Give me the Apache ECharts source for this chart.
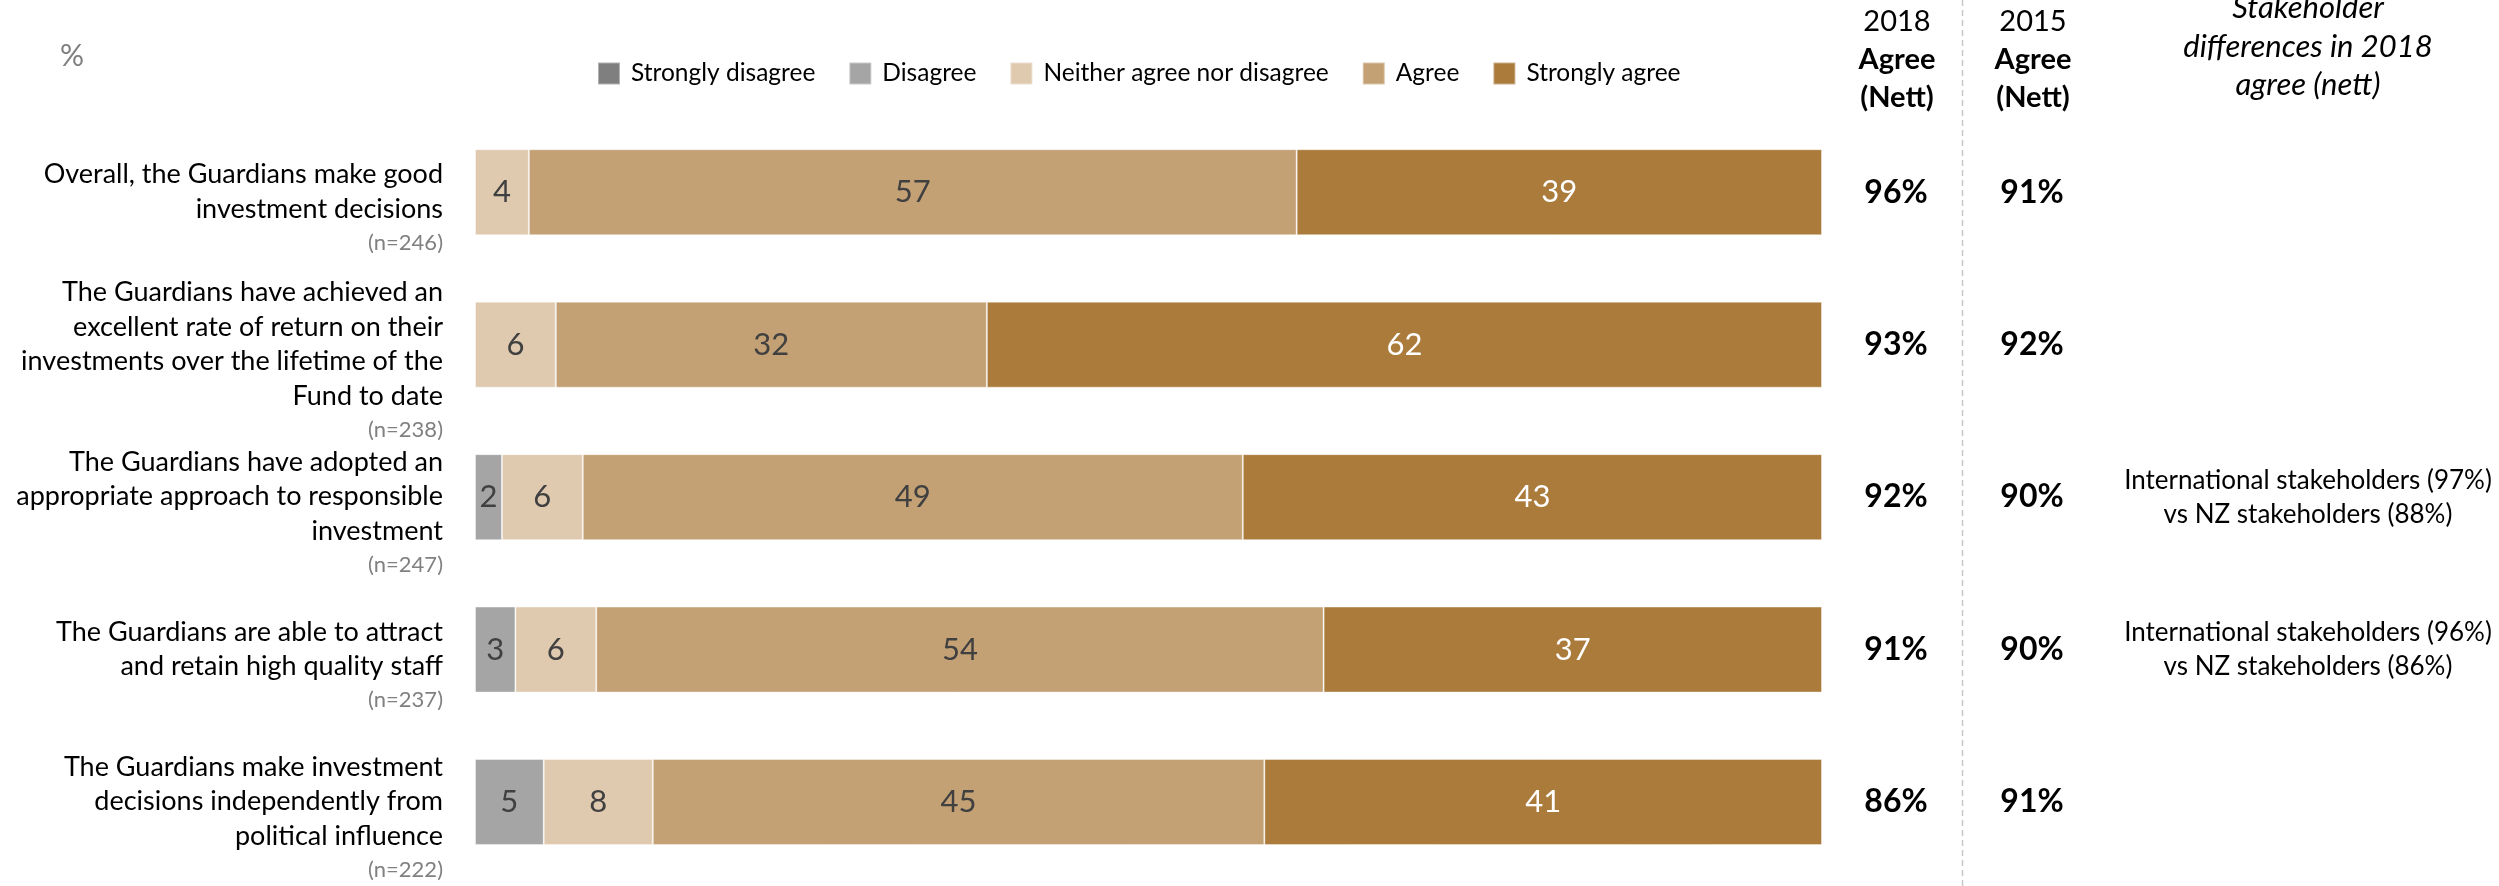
<!DOCTYPE html>
<html>
<head>
<meta charset="utf-8">
<script src="https://cdn.jsdelivr.net/npm/echarts@6/dist/echarts.min.js"></script>
<style>
html,body{margin:0;padding:0;background:#fff;}
#chart{width:2499px;height:886px;}
</style>
</head>
<body>
<div id="chart"></div>
<script>
// ---- data ----
var categories = [
  'Overall, the Guardians make good\ninvestment decisions',
  'The Guardians have achieved an\nexcellent rate of return on their\ninvestments over the lifetime of the\nFund to date',
  'The Guardians have adopted an\nappropriate approach to responsible\ninvestment',
  'The Guardians are able to attract\nand retain high quality staff',
  'The Guardians make investment\ndecisions independently from\npolitical influence'
];
var sampleSizes = ['(n=246)', '(n=238)', '(n=247)', '(n=237)', '(n=222)'];
var seriesNames = ['Strongly disagree', 'Disagree', 'Neither agree nor disagree', 'Agree', 'Strongly agree'];
var stronglyDisagree = [0, 0, 0, 0, 0];
var disagree = [0, 0, 2, 3, 5.1];
var neither = [4, 6, 6, 6, 8.1];
var agree = [57, 32, 49, 54, 45.4];
var stronglyAgree = [39, 62, 43, 37, 41.4];
var agreeNett2018 = [96, 93, 92, 91, 86];
var agreeNett2015 = [91, 92, 90, 90, 91];
var stakeholderDiff = [
  '',
  '',
  'International stakeholders (97%)\nvs NZ stakeholders (88%)',
  'International stakeholders (96%)\nvs NZ stakeholders (86%)',
  ''
];

var colors = ['#7f7f7f', '#a5a5a5', '#dfcaaf', '#c4a174', '#ab7b3c'];
var FONT = 'Lato';

var chart = echarts.init(document.getElementById('chart'), null, {renderer: 'canvas'});

var seriesData = [stronglyDisagree, disagree, neither, agree, stronglyAgree];
var series = seriesData.map(function (d, i) {
  return {
    name: seriesNames[i],
    type: 'bar',
    stack: 'total',
    barWidth: 86,
    data: d,
    itemStyle: {color: colors[i], borderColor: 'rgba(255,255,255,0.4)', borderWidth: 1},
    label: {
      show: true,
      position: 'inside',
      fontFamily: FONT,
      fontSize: 31,
      color: i === 4 ? '#ffffff' : '#404040',
      formatter: function (p) { return p.value > 0 ? String(Math.round(p.value)) : ''; }
    },
    emphasis: {disabled: true}
  };
});

function rightAxis(margin, formatter, labelStyle) {
  var lab = Object.assign({
    show: true,
    interval: 0,
    showMinLabel: true,
    showMaxLabel: true,
    hideOverlap: false,
    margin: margin,
    align: 'center',
    fontFamily: FONT,
    color: '#000',
    formatter: formatter
  }, labelStyle);
  return {
    type: 'category',
    data: categories,
    inverse: true,
    position: 'right',
    offset: 0,
    axisLine: {show: false},
    axisTick: {show: false},
    splitLine: {show: false},
    axisLabel: lab
  };
}

function gtext(x, y, text, font, fill) {
  return {
    type: 'text',
    x: x, y: y,
    silent: true,
    style: {
      text: text, font: font, fill: fill || '#000',
      align: 'center', verticalAlign: 'middle',
      textAlign: 'center', textVerticalAlign: 'middle'
    }
  };
}

var option = {
  animation: false,
  backgroundColor: '#ffffff',
  textStyle: {fontFamily: FONT},
  color: colors,
  legend: {
    left: 592,
    top: 56,
    icon: 'rect',
    itemWidth: 22,
    itemHeight: 22,
    itemGap: 33,
    selectedMode: false,
    data: seriesNames,
    textStyle: {fontFamily: FONT, fontSize: 24.5, color: '#000', padding: [0, 0, 0, 6]}
  },
  grid: {left: 475, right: 677, top: 116, bottom: 5, containLabel: false},
  xAxis: {
    type: 'value', min: 0, max: 100,
    show: false
  },
  yAxis: [
    {
      type: 'category',
      data: categories,
      inverse: true,
      position: 'left',
      axisLine: {show: false},
      axisTick: {show: false},
      splitLine: {show: false},
      axisLabel: {
        interval: 0,
        showMinLabel: true,
        showMaxLabel: true,
        hideOverlap: false,
        margin: 32,
        align: 'right',
        fontFamily: FONT,
        fontSize: 27,
        lineHeight: 34.5,
        color: '#000',
        padding: [32, 0, 0, 0],
        formatter: function (v, i) { return v + '\n{n|' + sampleSizes[i] + '}'; },
        rich: {
          n: {fontFamily: FONT, fontSize: 22, lineHeight: 33, color: '#808080'}
        }
      }
    },
    rightAxis(74, function (v, i) { return agreeNett2018[i] + '%'; }, {fontSize: 32, fontWeight: 'bold'}),
    rightAxis(210, function (v, i) { return agreeNett2015[i] + '%'; }, {fontSize: 32, fontWeight: 'bold'}),
    rightAxis(486, function (v, i) { return stakeholderDiff[i]; }, {fontSize: 26, lineHeight: 34, padding: [0, 0, 20, 0]})
  ],
  series: series,
  graphic: [
    gtext(72, 56, '%', '30px Lato', '#7f7f7f'),
    gtext(1897, 22, '2018', '29px Lato'),
    gtext(1897, 60, 'Agree', 'bold 29px Lato'),
    gtext(1897, 98, '(Nett)', 'bold 29px Lato'),
    gtext(2033, 22, '2015', '29px Lato'),
    gtext(2033, 60, 'Agree', 'bold 29px Lato'),
    gtext(2033, 98, '(Nett)', 'bold 29px Lato'),
    gtext(2308, 8, 'Stakeholder', 'italic 31px Lato'),
    gtext(2308, 47, 'differences in 2018', 'italic 31px Lato'),
    gtext(2308, 85, 'agree (nett)', 'italic 31px Lato'),
    {
      type: 'line',
      silent: true,
      shape: {x1: 1962.5, y1: 0, x2: 1962.5, y2: 886},
      style: {stroke: '#c8c8c8', lineWidth: 1.5, lineDash: [6, 4]}
    }
  ]
};

chart.setOption(option);
</script>
</body>
</html>
